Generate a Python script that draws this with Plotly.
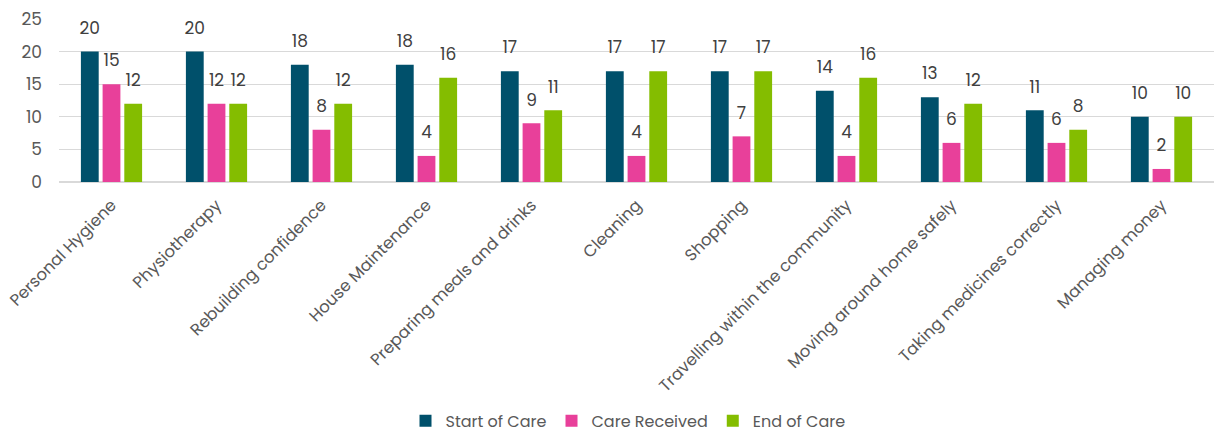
import plotly.graph_objects as go

categories = [
    "Personal Hygiene", "Physiotherapy", "Rebuilding confidence", "House Maintenance",
    "Preparing meals and drinks", "Cleaning", "Shopping", "Travelling within the community",
    "Moving around home safely", "Taking medicines correctly", "Managing money",
]
start_of_care = [20, 20, 18, 18, 17, 17, 17, 14, 13, 11, 10]
care_received = [15, 12, 8, 4, 9, 4, 7, 4, 6, 6, 2]
end_of_care = [12, 12, 12, 16, 11, 17, 17, 16, 12, 8, 10]

series = [
    ("Start of Care", start_of_care, "#00506B"),
    ("Care Received", care_received, "#E8409A"),
    ("End of Care", end_of_care, "#84BD00"),
]

FONT = "Poppins, Lato, 'Open Sans', sans-serif"
GAP = 0.38

fig = go.Figure()
for name, vals, color in series:
    fig.add_trace(go.Bar(
        name=name, x=categories, y=vals,
        marker=dict(color=color, line=dict(width=0)),
        cliponaxis=False,
    ))
# value labels, grouped the same way as the bars
for name, vals, color in series:
    fig.add_trace(go.Scatter(
        x=categories, y=vals, mode="markers+text",
        text=[str(v) for v in vals], textposition="top center",
        textfont=dict(family=FONT, size=17, color="#404040"),
        marker=dict(size=20, opacity=0),
        showlegend=False, hoverinfo="skip", cliponaxis=False,
    ))

fig.update_layout(
    width=1214, height=432,
    margin=dict(l=59, r=0, t=19, b=250, autoexpand=False),
    paper_bgcolor="white", plot_bgcolor="white",
    barmode="group", bargap=GAP, bargroupgap=0.18,
    scattermode="group", scattergap=GAP,
    font=dict(family=FONT, color="#595959", size=16),
    showlegend=True,
    legend=dict(
        orientation="h", x=0.3, xanchor="left", y=-1.465, yanchor="middle",
        font=dict(family=FONT, size=16, color="#595959"),
        itemwidth=30, traceorder="normal",
    ),
)
fig.update_xaxes(
    tickangle=-45, showgrid=False, showline=True, linecolor="#D9D9D9",
    ticks="", tickfont=dict(family=FONT, size=16.5, color="#595959"),
    ticklabelstandoff=6, automargin=False,
)
fig.update_yaxes(
    range=[0, 25], dtick=5, showgrid=True, gridcolor="#D9D9D9",
    zeroline=True, zerolinecolor="#D9D9D9", showline=False, ticks="",
    tickfont=dict(family=FONT, size=17, color="#595959"), ticklabelstandoff=16,
    automargin=False,
)

fig.write_html("out.html")
